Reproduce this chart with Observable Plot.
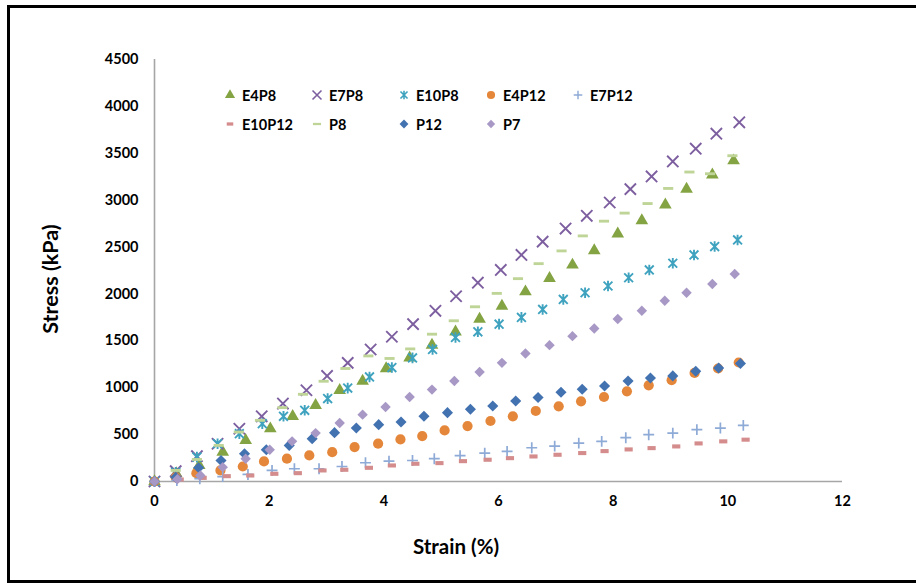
<!DOCTYPE html>
<html>
<head>
<meta charset="utf-8">
<script src="https://cdn.jsdelivr.net/npm/d3@7"></script>
<script src="https://cdn.jsdelivr.net/npm/@observablehq/plot@0.6"></script>
<style>
  html, body { margin: 0; padding: 0; background: #fff; overflow: hidden; }
  #wrap { position: relative; width: 916px; height: 583px; overflow: hidden; font-family: Lato, "Open Sans", sans-serif; }
  #frame { position: absolute; left: 7px; top: 5px; width: 930px; height: 578px; border: 3px solid #000; box-sizing: border-box; pointer-events: none; }
  #chart { position: absolute; left: 0; top: 0; }
  .title { position: absolute; font-weight: 700; font-size: 20.5px; color: #000; white-space: nowrap; }
  #ytitle { left: 50px; top: 279px; font-size: 21.5px; transform: translate(-50%, -50%) rotate(-90deg); }
  #xtitle { left: 456px; top: 546px; transform: translate(-50%, -50%); }
  #legend { position: absolute; left: 222px; top: 81px; display: grid; grid-template-columns: repeat(5, 87px); grid-auto-rows: 28.7px; }
  .item { display: flex; align-items: center; font-weight: 700; font-size: 14.5px; color: #000; }
  .item svg { width: 16px; height: 16px; margin-right: 4px; flex: none; }
</style>
</head>
<body>
<div id="wrap">
  <div id="chart"></div>
  <div id="legend"></div>
  <div class="title" id="ytitle">Stress (kPa)</div>
  <div class="title" id="xtitle">Strain (%)</div>
  <div id="frame"></div>
</div>
<script>
// Strain (%) and stress (kPa) for each specimen
const strainE4P8 = [0, 0.38, 0.78, 1.19, 1.59, 2.02, 2.41, 2.81, 3.23, 3.63, 4.04, 4.45, 4.84, 5.25, 5.67, 6.06, 6.47, 6.89, 7.29, 7.67, 8.08, 8.50, 8.91, 9.28, 9.73, 10.10];
const stressE4P8 = [0, 85, 171, 313, 438, 563, 695, 812, 973, 1072, 1205, 1318, 1454, 1596, 1732, 1871, 2024, 2167, 2309, 2462, 2640, 2783, 2950, 3118, 3271, 3421];

const strainE7P8 = [0, 0.37, 0.74, 1.10, 1.48, 1.87, 2.24, 2.65, 3.01, 3.37, 3.77, 4.14, 4.51, 4.90, 5.26, 5.64, 6.04, 6.40, 6.77, 7.17, 7.54, 7.94, 8.30, 8.67, 9.04, 9.44, 9.80, 10.20];
const stressE7P8 = [0, 110, 270, 403, 563, 695, 831, 973, 1126, 1265, 1408, 1543, 1678, 1820, 1976, 2120, 2256, 2416, 2558, 2697, 2833, 2975, 3118, 3253, 3413, 3549, 3709, 3830];

const strainE10P8 = [0, 0.37, 0.74, 1.10, 1.48, 1.88, 2.25, 2.62, 3.02, 3.37, 3.75, 4.14, 4.50, 4.85, 5.25, 5.64, 6.01, 6.40, 6.77, 7.13, 7.51, 7.91, 8.27, 8.63, 9.04, 9.41, 9.77, 10.17];
const stressE10P8 = [0, 99, 260, 403, 510, 617, 695, 759, 884, 996, 1115, 1215, 1318, 1408, 1536, 1596, 1678, 1750, 1835, 1942, 2013, 2085, 2173, 2256, 2327, 2416, 2505, 2576];

const strainE4P12 = [0, 0.37, 0.73, 1.15, 1.54, 1.91, 2.31, 2.70, 3.10, 3.49, 3.90, 4.29, 4.67, 5.06, 5.46, 5.86, 6.25, 6.65, 7.05, 7.44, 7.84, 8.24, 8.62, 9.02, 9.42, 9.83, 10.19];
const stressE4P12 = [0, 43, 89, 118, 160, 214, 243, 278, 313, 367, 403, 449, 484, 545, 591, 645, 695, 752, 802, 855, 901, 962, 1026, 1080, 1158, 1205, 1269];

const strainE7P12 = [0, 0.39, 0.79, 1.19, 1.63, 2.05, 2.44, 2.87, 3.27, 3.68, 4.09, 4.50, 4.88, 5.33, 5.76, 6.15, 6.58, 6.98, 7.40, 7.80, 8.22, 8.62, 9.04, 9.46, 9.87, 10.27];
const stressE7P12 = [0, 10, 30, 53, 75, 118, 136, 136, 160, 200, 217, 224, 243, 275, 303, 321, 360, 377, 409, 428, 467, 499, 516, 553, 570, 599];

const strainE10P12 = [0, 0.44, 0.84, 1.26, 1.67, 2.09, 2.50, 2.93, 3.31, 3.74, 4.14, 4.55, 4.97, 5.38, 5.81, 6.20, 6.61, 7.03, 7.46, 7.85, 8.27, 8.67, 9.10, 9.49, 9.92, 10.31];
const stressE10P12 = [0, 21, 39, 57, 64, 82, 89, 118, 125, 146, 171, 189, 196, 217, 232, 249, 267, 285, 303, 324, 342, 356, 374, 406, 428, 446];

const strainP8 = [0, 0.37, 0.74, 1.12, 1.47, 1.84, 2.23, 2.59, 2.95, 3.33, 3.73, 4.10, 4.46, 4.84, 5.22, 5.59, 5.97, 6.34, 6.70, 7.10, 7.47, 7.84, 8.20, 8.60, 8.96, 9.33, 9.69, 10.08];
const stressP8 = [0, 118, 235, 385, 527, 652, 788, 930, 1069, 1205, 1339, 1312, 1414, 1571, 1714, 1863, 2006, 2163, 2323, 2459, 2619, 2776, 2862, 2964, 3125, 3300, 3282, 3474];

const strainP12 = [0, 0.37, 0.77, 1.16, 1.57, 1.95, 2.35, 2.75, 3.14, 3.52, 3.91, 4.30, 4.70, 5.11, 5.51, 5.90, 6.30, 6.69, 7.09, 7.46, 7.85, 8.26, 8.65, 9.04, 9.44, 9.84, 10.22];
const stressP12 = [0, 46, 146, 224, 296, 339, 385, 456, 521, 570, 606, 634, 695, 734, 770, 805, 858, 895, 951, 983, 1019, 1072, 1104, 1126, 1176, 1211, 1258];

const strainP7 = [0, 0.40, 0.80, 1.19, 1.59, 2.01, 2.40, 2.81, 3.23, 3.63, 4.03, 4.45, 4.84, 5.23, 5.67, 6.06, 6.47, 6.89, 7.29, 7.67, 8.08, 8.50, 8.90, 9.28, 9.73, 10.12];
const stressP7 = [0, 25, 64, 153, 243, 339, 428, 516, 623, 713, 794, 901, 980, 1072, 1168, 1265, 1365, 1454, 1550, 1632, 1732, 1820, 1927, 2013, 2106, 2213];

const seriesNames = ["E4P8", "E7P8", "E10P8", "E4P12", "E7P12", "E10P12", "P8", "P12", "P7"];
const xTicks = [0, 2, 4, 6, 8, 10, 12];
const yTicks = [0, 500, 1000, 1500, 2000, 2500, 3000, 3500, 4000, 4500];

// Flat rectangular marker ("dash"), width and height relative to the marker radius
function dashSymbol(wf, hf) {
  return {
    draw(context, size) {
      const r = Math.sqrt(size / Math.PI);
      const w = r * wf, h = r * hf;
      context.rect(-w / 2, -h / 2, w, h);
    }
  };
}

// Star marker: a cross of two diagonals plus a vertical stroke
const starSymbol = {
  draw(context, size) {
    const r = Math.sqrt(size / Math.PI);
    const d = r * 0.92;
    context.moveTo(-d, -d); context.lineTo(d, d);
    context.moveTo(-d, d); context.lineTo(d, -d);
    context.moveTo(0, -r * 1.1); context.lineTo(0, r * 1.1);
  }
};

const seriesData = {
  E4P8: [strainE4P8, stressE4P8],
  E7P8: [strainE7P8, stressE7P8],
  E10P8: [strainE10P8, stressE10P8],
  E4P12: [strainE4P12, stressE4P12],
  E7P12: [strainE7P12, stressE7P12],
  E10P12: [strainE10P12, stressE10P12],
  P8: [strainP8, stressP8],
  P12: [strainP12, stressP12],
  P7: [strainP7, stressP7]
};

// Marker look per series
const markerStyle = {
  E4P8:   {symbol: "triangle", r: 4.7, fill: "#84a443"},
  E7P8:   {symbol: "times", r: 5.2, stroke: "#7d5fa0", strokeWidth: 1.9},
  E10P8:  {symbol: starSymbol, r: 4.8, stroke: "#3fa3bf", strokeWidth: 1.9},
  E4P12:  {symbol: "circle", r: 5.1, fill: "#e5873a"},
  E7P12:  {symbol: "plus", r: 3.6, stroke: "#8eaad6", strokeWidth: 1.7},
  E10P12: {symbol: dashSymbol(1.9, 0.95), r: 4.3, fill: "#d48c8c"},
  P8:     {symbol: dashSymbol(2.3, 0.65), r: 4.4, fill: "#bfd598"},
  P12:    {symbol: "diamond2", r: 5.0, fill: "#4372b0"},
  P7:     {symbol: "diamond2", r: 4.7, fill: "#a898c6"}
};

const rows = seriesNames.flatMap(name => {
  const [xs, ys] = seriesData[name];
  return xs.map((x, i) => ({series: name, strain: x, stress: ys[i]}));
});

const dotMarks = seriesNames.map(name => {
  const s = markerStyle[name];
  const opts = {x: "strain", y: "stress", symbol: s.symbol, r: s.r};
  if (s.fill) { opts.fill = s.fill; opts.stroke = "none"; }
  else { opts.fill = "none"; opts.stroke = s.stroke; opts.strokeWidth = s.strokeWidth; }
  return Plot.dot(rows.filter(d => d.series === name), opts);
});

const chart = Plot.plot({
  width: 916,
  height: 583,
  marginLeft: 154,
  marginRight: 74,
  marginTop: 59,
  marginBottom: 102,
  x: {domain: [0, 12]},
  y: {domain: [0, 4500]},
  style: {fontFamily: "Lato, 'Open Sans', sans-serif", fontSize: "14.5px", fontWeight: 700, color: "#000", background: "transparent"},
  marks: [
    Plot.axisY(yTicks, {tickSize: 0, tickPadding: 16, tickFormat: d => String(d), label: null}),
    Plot.axisX(xTicks, {tickSize: 0, tickPadding: 14, tickFormat: d => String(d), label: null}),
    Plot.ruleX([0], {stroke: "#a6a6a6", strokeWidth: 1.6}),
    Plot.ruleY([0], {stroke: "#a6a6a6", strokeWidth: 1.6}),
    ...dotMarks
  ]
});
document.getElementById("chart").appendChild(chart);

// Legend: two rows of marker + name
const symbolMap = {
  triangle: d3.symbolTriangle, times: d3.symbolTimes, asterisk: d3.symbolAsterisk,
  circle: d3.symbolCircle, plus: d3.symbolPlus, diamond2: d3.symbolDiamond2
};
const legend = d3.select("#legend");
seriesNames.forEach(name => {
  const s = markerStyle[name];
  const item = legend.append("div").attr("class", "item");
  const svg = item.append("svg").attr("viewBox", "-8 -8 16 16");
  const type = typeof s.symbol === "string" ? symbolMap[s.symbol] : s.symbol;
  const rr = s.r * 0.8;
  const path = svg.append("path").attr("d", d3.symbol(type, Math.PI * rr * rr)());
  if (s.fill) path.attr("fill", s.fill);
  else path.attr("fill", "none").attr("stroke", s.stroke).attr("stroke-width", s.strokeWidth * 0.85);
  item.append("span").text(name);
});
// second row starts under the first column
d3.select("#legend").selectAll(".item").filter((d, i) => i === 5).style("grid-column", "1");
</script>
</body>
</html>
